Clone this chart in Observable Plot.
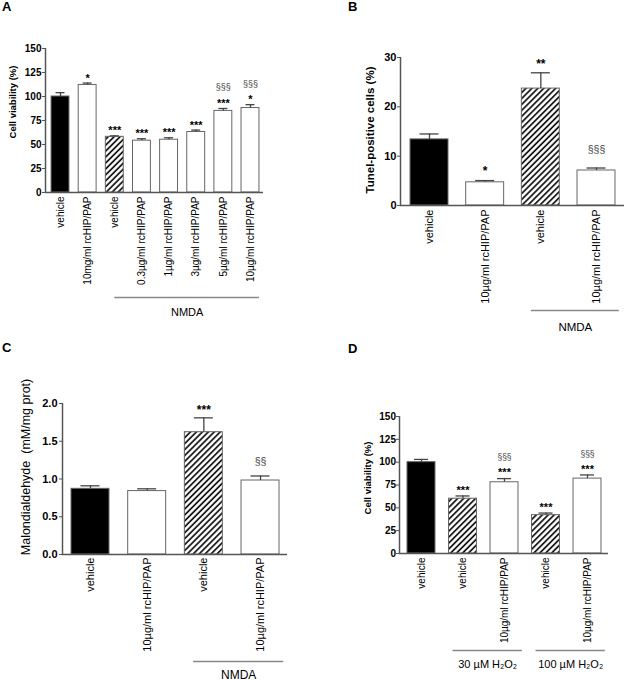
<!DOCTYPE html>
<html><head><meta charset="utf-8">
<script src="https://cdn.jsdelivr.net/npm/d3@7"></script>
<script src="https://cdn.jsdelivr.net/npm/@observablehq/plot@0.6"></script>
<style>
body{margin:0;background:#fff;}
#fig{position:relative;width:624px;height:681px;overflow:hidden;font-family:"Liberation Sans",Arial,sans-serif;background:#fff;}
.letter{position:absolute;font-weight:bold;font-size:13px;line-height:1;color:#000;}
.ylab{position:absolute;line-height:1;white-space:nowrap;color:#000;transform:translate(-50%,-50%) rotate(-90deg);}
</style></head><body><div id="fig"></div>
<script>
// ---------- Panel A: cell viability, NMDA ----------
const aLabels = ["vehicle","10mg/ml rcHIP/PAP","vehicle","0.3µg/ml rcHIP/PAP","1µg/ml rcHIP/PAP","3µg/ml rcHIP/PAP","5µg/ml rcHIP/PAP","10µg/ml rcHIP/PAP"];
const aMeans = [100, 112, 58, 54, 55, 63, 85, 88];
const aSem = [4, 2, 1, 2, 2, 2, 2.5, 3.5];
const aFills = ["solid","open","hatch","open","open","open","open","open"];
const aStars = ["", "*", "***", "***", "***", "***", "***", "*"];
const aSigns = ["", "", "", "", "", "", "§§§", "§§§"];
const aGroups = [{label: "NMDA", first: 2, last: 7}];
const aTicks = [0, 25, 50, 75, 100, 125, 150];
const aTitle = "Cell viability (%)";

// ---------- Panel B: TUNEL ----------
const bLabels = ["vehicle","10µg/ml rcHIP/PAP","vehicle","10µg/ml rcHIP/PAP"];
const bMeans = [13.4, 4.7, 23.7, 7.1];
const bSem = [1.1, 0.35, 3.2, 0.5];
const bFills = ["solid","open","hatch","open"];
const bStars = ["", "*", "**", ""];
const bSigns = ["", "", "", "§§§"];
const bGroups = [{label: "NMDA", first: 2, last: 3}];
const bTicks = [0, 10, 20, 30];
const bTitle = "Tunel-positive cells (%)";

// ---------- Panel C: malondialdehyde ----------
const cLabels = ["vehicle","10µg/ml rcHIP/PAP","vehicle","10µg/ml rcHIP/PAP"];
const cMeans = [0.87, 0.84, 1.62, 0.98];
const cSem = [0.04, 0.03, 0.19, 0.06];
const cFills = ["solid","open","hatch","open"];
const cStars = ["", "", "***", ""];
const cSigns = ["", "", "", "§§"];
const cGroups = [{label: "NMDA", first: 2, last: 3}];
const cTicks = [0, 0.5, 1.0, 1.5, 2.0];
const cTitle = "Malondialdehyde\u00a0\u00a0(mM/mg prot)";

// ---------- Panel D: cell viability, H2O2 ----------
const dLabels = ["vehicle","vehicle","10µg/ml rcHIP/PAP","vehicle","10µg/ml rcHIP/PAP"];
const dMeans = [100, 60, 78, 42, 82];
const dSem = [3, 3, 4, 2.3, 4];
const dFills = ["solid","hatch","open","hatch","open"];
const dStars = ["", "***", "***", "***", "***"];
const dSigns = ["", "", "§§§", "", "§§§"];
const dGroups = [{label: "30 µM H₂O₂", first: 1, last: 2}, {label: "100 µM H₂O₂", first: 3, last: 4}];
const dTicks = [0, 25, 50, 75, 100, 125, 150];
const dTitle = "Cell viability (%)";

const fig = document.getElementById("fig");
const AX = "#555";

function panel(c) {
  const data = c.labels.map((label, i) => ({
    i, label, mean: c.means[i], top: c.means[i] + c.sem[i],
    fill: c.fills[i], star: c.stars[i], sign: c.signs[i]
  }));
  const hw = c.half, cap = c.half / 2;
  const y0 = c.yDomain[0];
  const hatch = "url(#hatch" + c.id + ")";
  const barStyle = {x1: d => d.i - hw, x2: d => d.i + hw, y1: () => y0, y2: "mean", stroke: "#666", strokeWidth: 1};
  const gx1 = d => d.first + c.g0, gx2 = d => d.last + c.g1;
  const svg = Plot.plot({
    width: c.width, height: c.height,
    marginTop: c.mt, marginBottom: c.mb, marginLeft: c.ml, marginRight: c.mr,
    x: {type: "linear", domain: c.xDomain, axis: null},
    y: {domain: c.yDomain, axis: null},
    style: {fontFamily: '"Liberation Sans", Arial, sans-serif', background: "transparent", overflow: "visible", color: "#000"},
    marks: [
      Plot.rect(data.filter(d => d.fill === "solid"), {...barStyle, fill: "#000"}),
      Plot.rect(data.filter(d => d.fill === "open"), {...barStyle, fill: "#fff"}),
      Plot.rect(data.filter(d => d.fill === "hatch"), {...barStyle, fill: hatch}),
      Plot.ruleX(data, {x: "i", y1: "mean", y2: "top", stroke: "#444", strokeWidth: 1.3}),
      Plot.ruleY(data, {y: "top", x1: d => d.i - cap, x2: d => d.i + cap, stroke: "#444", strokeWidth: 1.3}),
      Plot.ruleX([c.xDomain[0]], {stroke: AX, strokeWidth: 1.5}),
      Plot.ruleY([y0], {stroke: AX, strokeWidth: 1.5}),
      Plot.axisY({ticks: c.yTicks, tickFormat: c.yFmt, tickSize: 3, tickPadding: c.yPad, fontSize: c.yTickSize, fontWeight: "bold", stroke: AX, label: null}),
      Plot.axisX({ticks: data.map(d => d.i), tickFormat: v => c.labels[v], tickRotate: -90, textAnchor: "end", tickSize: 0, tickPadding: c.xPad, fontSize: c.xSize, label: null}),
      Plot.text(data.filter(d => d.star), {x: "i", y: "top", text: "star", dy: c.starDy, fontSize: c.starSize, fontWeight: "bold", lineAnchor: "middle"}),
      Plot.text(data.filter(d => d.sign), {x: "i", y: "top", text: "sign", dy: c.signDy, fontSize: c.signSize, fill: "#444", lineAnchor: "middle"}),
      Plot.ruleY(c.groups, {y: () => y0, x1: gx1, x2: gx2, dy: c.gDy, stroke: "#888", strokeWidth: 1.5}),
      Plot.text(c.groups, {x: d => (gx1(d) + gx2(d)) / 2, y: () => y0, text: "label", dy: c.gDy + c.gTextDy, fontSize: c.gSize, lineAnchor: "middle"})
    ]
  });
  const defs = d3.select(svg).insert("defs", ":first-child");
  const p = defs.append("pattern").attr("id", "hatch" + c.id).attr("patternUnits", "userSpaceOnUse")
    .attr("width", 4.2).attr("height", 4.2).attr("patternTransform", "rotate(45)");
  p.append("rect").attr("width", 4.2).attr("height", 4.2).attr("fill", "#fff");
  p.append("line").attr("x1", 1).attr("y1", 0).attr("x2", 1).attr("y2", 4.2).attr("stroke", "#000").attr("stroke-width", 1.6);
  svg.style.position = "absolute";
  svg.style.left = c.left + "px";
  svg.style.top = c.top + "px";
  fig.appendChild(svg);

  const yl = document.createElement("div");
  yl.className = "ylab";
  yl.textContent = c.yLabel;
  yl.style.left = c.ylX + "px";
  yl.style.top = c.ylY + "px";
  yl.style.fontSize = c.ylSize + "px";
  yl.style.fontWeight = c.ylWeight;
  fig.appendChild(yl);
}

panel({id: "A", left: 0, top: 0, width: 310, height: 330, mt: 48, mb: 138, ml: 45, mr: 47,
  xDomain: [-0.553, 7.479], yDomain: [0, 150], half: 0.33,
  labels: aLabels, means: aMeans, sem: aSem, fills: aFills, stars: aStars, signs: aSigns, groups: aGroups,
  yTicks: aTicks, yFmt: d3.format("d"), yPad: 1, yTickSize: 10, xPad: 4, xSize: 10,
  starDy: -5, starSize: 11, signDy: -21, signSize: 9,
  g0: 0, g1: 0.33, gDy: 105, gTextDy: 15, gSize: 11,
  yLabel: aTitle, ylX: 13, ylY: 102, ylSize: 9.5, ylWeight: "bold"});

panel({id: "B", left: 310, top: 0, width: 314, height: 330, mt: 57, mb: 125, ml: 90, mr: 0,
  xDomain: [-0.521, 3.503], yDomain: [0, 30], half: 0.341,
  labels: bLabels, means: bMeans, sem: bSem, fills: bFills, stars: bStars, signs: bSigns, groups: bGroups,
  yTicks: bTicks, yFmt: d3.format("d"), yPad: 1, yTickSize: 11, xPad: 4, xSize: 11,
  starDy: -9, starSize: 12, signDy: -18.5, signSize: 10.5,
  g0: -0.17, g1: 0.41, gDy: 105, gTextDy: 16.5, gSize: 11.5,
  yLabel: bTitle, ylX: 371, ylY: 130, ylSize: 11.5, ylWeight: "bold"});

panel({id: "C", left: 0, top: 330, width: 310, height: 351, mt: 73, mb: 127, ml: 62, mr: 23,
  xDomain: [-0.494, 3.476], yDomain: [0, 2], half: 0.335,
  labels: cLabels, means: cMeans, sem: cSem, fills: cFills, stars: cStars, signs: cSigns, groups: cGroups,
  yTicks: cTicks, yFmt: d3.format(".1f"), yPad: 2, yTickSize: 11, xPad: 3, xSize: 11,
  starDy: -7.4, starSize: 12, signDy: -14, signSize: 10.5,
  g0: -0.18, g1: 0.41, gDy: 107, gTextDy: 14, gSize: 12,
  yLabel: cTitle, ylX: 26, ylY: 467, ylSize: 12.5, ylWeight: "normal"});

panel({id: "D", left: 310, top: 330, width: 314, height: 351, mt: 86, mb: 128, ml: 89, mr: 16,
  xDomain: [-0.530, 4.506], yDomain: [0, 150], half: 0.337,
  labels: dLabels, means: dMeans, sem: dSem, fills: dFills, stars: dStars, signs: dSigns, groups: dGroups,
  yTicks: dTicks, yFmt: d3.format("d"), yPad: 0.5, yTickSize: 10, xPad: 4, xSize: 10,
  starDy: -5.8, starSize: 11, signDy: -21, signSize: 8.5,
  g0: -0.24, g1: 0.43, gDy: 97, gTextDy: 14, gSize: 11,
  yLabel: dTitle, ylX: 368, ylY: 478, ylSize: 9.5, ylWeight: "bold"});

[["A", 2, 0], ["B", 348, 0], ["C", 2, 341], ["D", 348, 342]].forEach(([t, x, y]) => {
  const el = document.createElement("div");
  el.className = "letter"; el.textContent = t;
  el.style.left = x + "px"; el.style.top = y + "px";
  fig.appendChild(el);
});
</script>
</body></html>
